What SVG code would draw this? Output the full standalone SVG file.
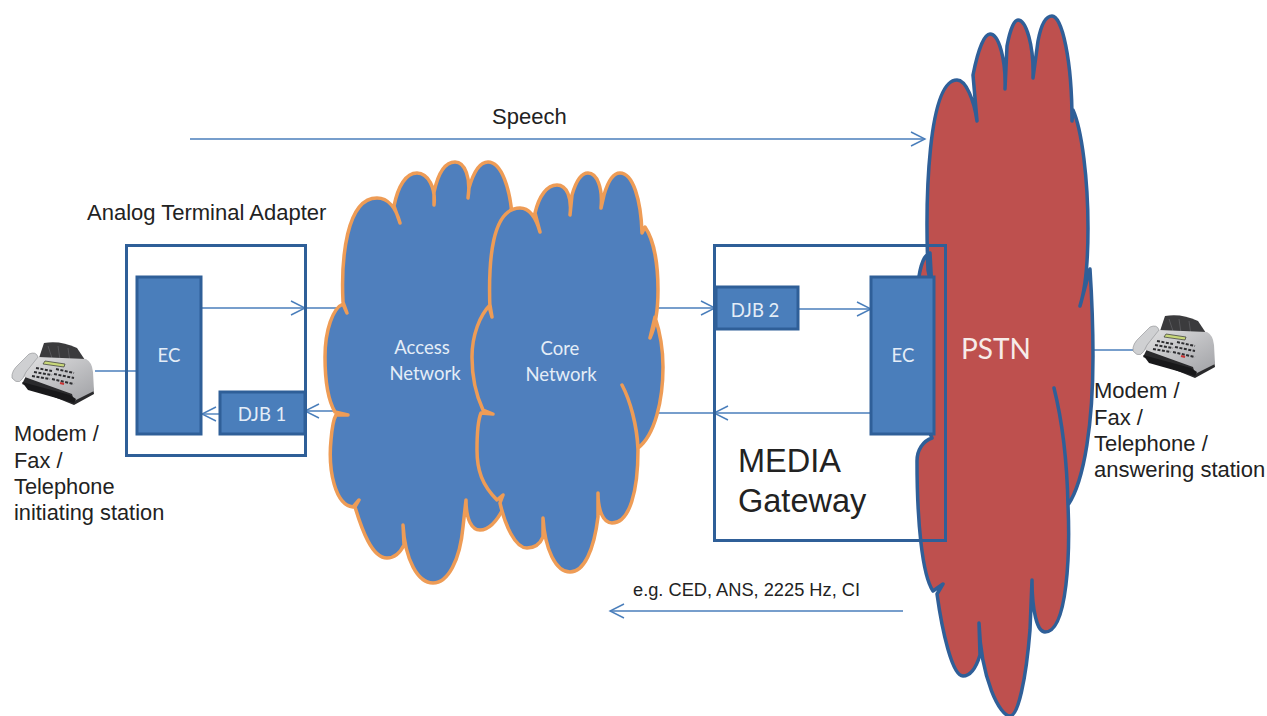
<svg xmlns="http://www.w3.org/2000/svg" xmlns:xlink="http://www.w3.org/1999/xlink" width="1267" height="716" viewBox="0 0 1267 716">
<style>
.box{fill:none;stroke:#2f5f98;stroke-width:3}
.blk{fill:#4a7ebb;stroke:#2f5f98;stroke-width:3}
.cl{fill:#4f7fbd;stroke:#ee9c56;stroke-width:3.5;stroke-linejoin:round}
.pstn{fill:#be504e;stroke:#2f5f98;stroke-width:3.5;stroke-linejoin:round}
.ln{fill:none;stroke:#4a7ebb;stroke-width:1.4}
.ar{marker-end:url(#a)}
.t{font-family:"Liberation Sans",Arial,sans-serif;fill:#222}
.w{font-family:Lato,"Open Sans",sans-serif;fill:#e4edf7;font-size:18.5px;text-anchor:middle}
</style>
<defs>
<marker id="a" markerUnits="userSpaceOnUse" markerWidth="17" markerHeight="18" refX="15" refY="9" orient="auto"><path d="M1,2L15,9L1,16" fill="none" stroke="#4a7ebb" stroke-width="1.4"/></marker>
<linearGradient id="fb" x1="0" y1="0" x2="1" y2="1"><stop offset="0" stop-color="#e2e2e3"/><stop offset="1" stop-color="#a0a1a5"/></linearGradient>
<g id="fax">
<path d="M22,384L74,405L94,394L90,366L40,358L28,372Z" fill="#2a2a2c"/>
<path d="M39,358L44,343Q60,340 77,348L87,363L62,370Z" fill="#3b3b3d"/>
<path d="M48,346L52,358M58,346L60,360M68,348L70,362" stroke="#56565a" stroke-width="1" fill="none"/>
<path d="M22,376L38,357L86,359Q92,362 93,372L94,391L74,401L72,394Z" fill="url(#fb)"/>
<path d="M12,378Q11,371 19,364L29,354Q36,351 38,357L26,372Q20,388 12,378Z" fill="#cfd0d2" stroke="#8a8b8f" stroke-width=".6"/>
<path d="M45,361L65,364L64,367L43,364Z" fill="#c8d77a" stroke="#333" stroke-width=".7"/>
<path d="M36,368L52,371M34,372L52,375M32,376L50,379M56,369L74,373M54,374L74,378M52,379L74,384" stroke="#2d2d30" stroke-width="2" stroke-dasharray="3 1.500" fill="none"/>
<path d="M22,382L70,395L76,399L74,403L28,390Z" fill="#18181a"/>
<path d="M60,383L64,384" stroke="#c33" stroke-width="2"/>
</g>
</defs>
<rect width="1267" height="716" fill="#fff"/>
<g id="gateway-back"><rect x="714.500" y="245.500" width="231" height="295" fill="#fff"/></g>
<g id="connectors">
<path class="ln ar" d="M190,139H925"/>
<path class="ln ar" d="M202,308H305"/>
<path class="ln" d="M305,308H345"/>
<path class="ln ar" d="M345,411H305"/>
<path class="ln ar" d="M219,414H202"/>
<path class="ln" d="M95,371H136"/>
<path class="ln ar" d="M655,308H715"/>
<path class="ln ar" d="M799,309H871"/>
<path class="ln ar" d="M871,413H714"/>
<path class="ln" d="M714,413H655"/>
<path class="ln" d="M1092,350H1136"/>
<path class="ln ar" d="M903,611H610"/>
</g>
<g id="ata-box"><rect class="box" x="126.500" y="245.500" width="179" height="210"/></g>
<g id="ata-ec"><rect class="blk" x="137" y="277" width="64" height="157"/><text class="w" x="169" y="362">EC</text></g>
<g id="djb1"><rect class="blk" x="220" y="392" width="85" height="42"/><text class="w" x="262" y="421">DJB 1</text></g>
<g id="access-network">
<path class="cl" d="M347,313L343,302C341,260 346,198 377,198C388,198 396,208 400,223L394,206C398,186 406,173 417,173C428,173 436,188 434,205L434,192C438,174 445,162 455,162C465,162 471,178 468,198L469,188C473,174 479,162 488,162C502,162 510,190 512,215L520,400L505,505C497,522 488,530 480,530C472,530 466,520 466,500L463,527C460,560 448,583 433,583C418,583 405,560 403,525L404,545C400,553 395,558 387,558C372,558 362,530 355,507L359,500L353,507C335,505 328,470 331,440C332,428 333,420 336,415L348,415L335,412C328,400 325,380 325,357C325,330 333,308 343,304Z"/>
<text class="w" x="422" y="354">Access</text><text class="w" x="425" y="380">Network</text>
</g>
<g id="core-network">
<path class="cl" d="M490,310C488,260 492,208 520,208C530,208 536,218 540,232L535,213C539,196 547,185 557,185C567,185 572,198 570,215L572,195C576,181 581,173 588,173C597,173 603,188 601,208L604,195C608,181 613,173 620,173C633,173 641,200 642,233L645,227C654,240 658,265 658,290C658,310 656,325 650,338L655,317C661,335 663,350 663,367C663,400 655,435 638,448C637,425 630,400 622,385C630,400 637,425 638,450C638,490 630,523 612,523C603,523 598,510 598,493L598,517C594,550 584,572 570,572C556,572 545,550 543,518L543,537C540,544 535,548 527,548C515,548 505,525 500,503L503,495L497,500C482,485 477,470 477,450C477,435 478,420 481,413L493,414L483,410C476,395 472,375 472,357C472,335 480,315 490,305L492,317Z"/>
<text class="w" x="560" y="355">Core</text><text class="w" x="561" y="381">Network</text>
</g>
<g id="pstn">
<path class="pstn" d="M928,270C925,200 928,80 957,80C966,80 974,100 977,121L973,75C978,50 984,34 990,34C999,34 1006,60 1005,89L1007,46C1010,30 1014,20 1018,20C1026,20 1034,45 1033,78L1038,41C1041,25 1046,16 1052,16C1062,16 1072,60 1072,121L1073,110C1082,130 1088,180 1088,228C1088,260 1085,290 1080,306L1090,269C1092,300 1093,330 1093,356C1093,420 1085,480 1068,505C1067,460 1062,420 1054,388C1062,420 1067,460 1068,505C1070,550 1068,632 1045,632C1037,632 1032,610 1032,580L1030,630C1026,680 1018,716 1010,716C1000,716 981,680 979,623L980,655C976,668 970,676 963,676C952,676 942,630 937,594L943,584L933,591C922,575 917,520 917,461C917,450 923,441 932,438C915,400 914,350 917,300C918,270 923,255 930,253L932,290Z"/>
<text x="996" y="359" font-family="Lato,'Open Sans',sans-serif" font-size="28" fill="#f7ece9" text-anchor="middle">PSTN</text>
</g>
<g id="media-gateway"><rect class="box" x="714.500" y="245.500" width="231" height="295"/>
<text class="t" font-size="32.500"><tspan x="738" y="472">MEDIA</tspan><tspan x="738" y="512">Gateway</tspan></text></g>
<g id="djb2"><rect class="blk" x="716" y="287" width="82" height="42"/><text class="w" x="755" y="317">DJB 2</text></g>
<g id="gw-ec"><rect class="blk" x="871" y="277" width="63" height="157"/><text class="w" x="903" y="362">EC</text></g>
<g id="fax-initiating"><use href="#fax" xlink:href="#fax"/>
<text class="t" font-size="21.800"><tspan x="14" y="441">Modem /</tspan><tspan x="14" y="468">Fax /</tspan><tspan x="14" y="494">Telephone</tspan><tspan x="14" y="520">initiating station</tspan></text></g>
<g id="fax-answering"><use href="#fax" xlink:href="#fax" transform="translate(1121,-27)"/>
<text class="t" font-size="22"><tspan x="1094" y="398">Modem /</tspan><tspan x="1094" y="425">Fax /</tspan><tspan x="1094" y="451">Telephone  /</tspan><tspan x="1094" y="477">answering station</tspan></text></g>
<text id="speech" class="t" x="492" y="124" font-size="22">Speech</text>
<text id="ata-label" class="t" x="87" y="220" font-size="22">Analog Terminal Adapter</text>
<text id="tones" class="t" x="633" y="596" font-size="17.500" textLength="227" lengthAdjust="spacingAndGlyphs">e.g. CED, ANS, 2225 Hz, CI</text>
</svg>
